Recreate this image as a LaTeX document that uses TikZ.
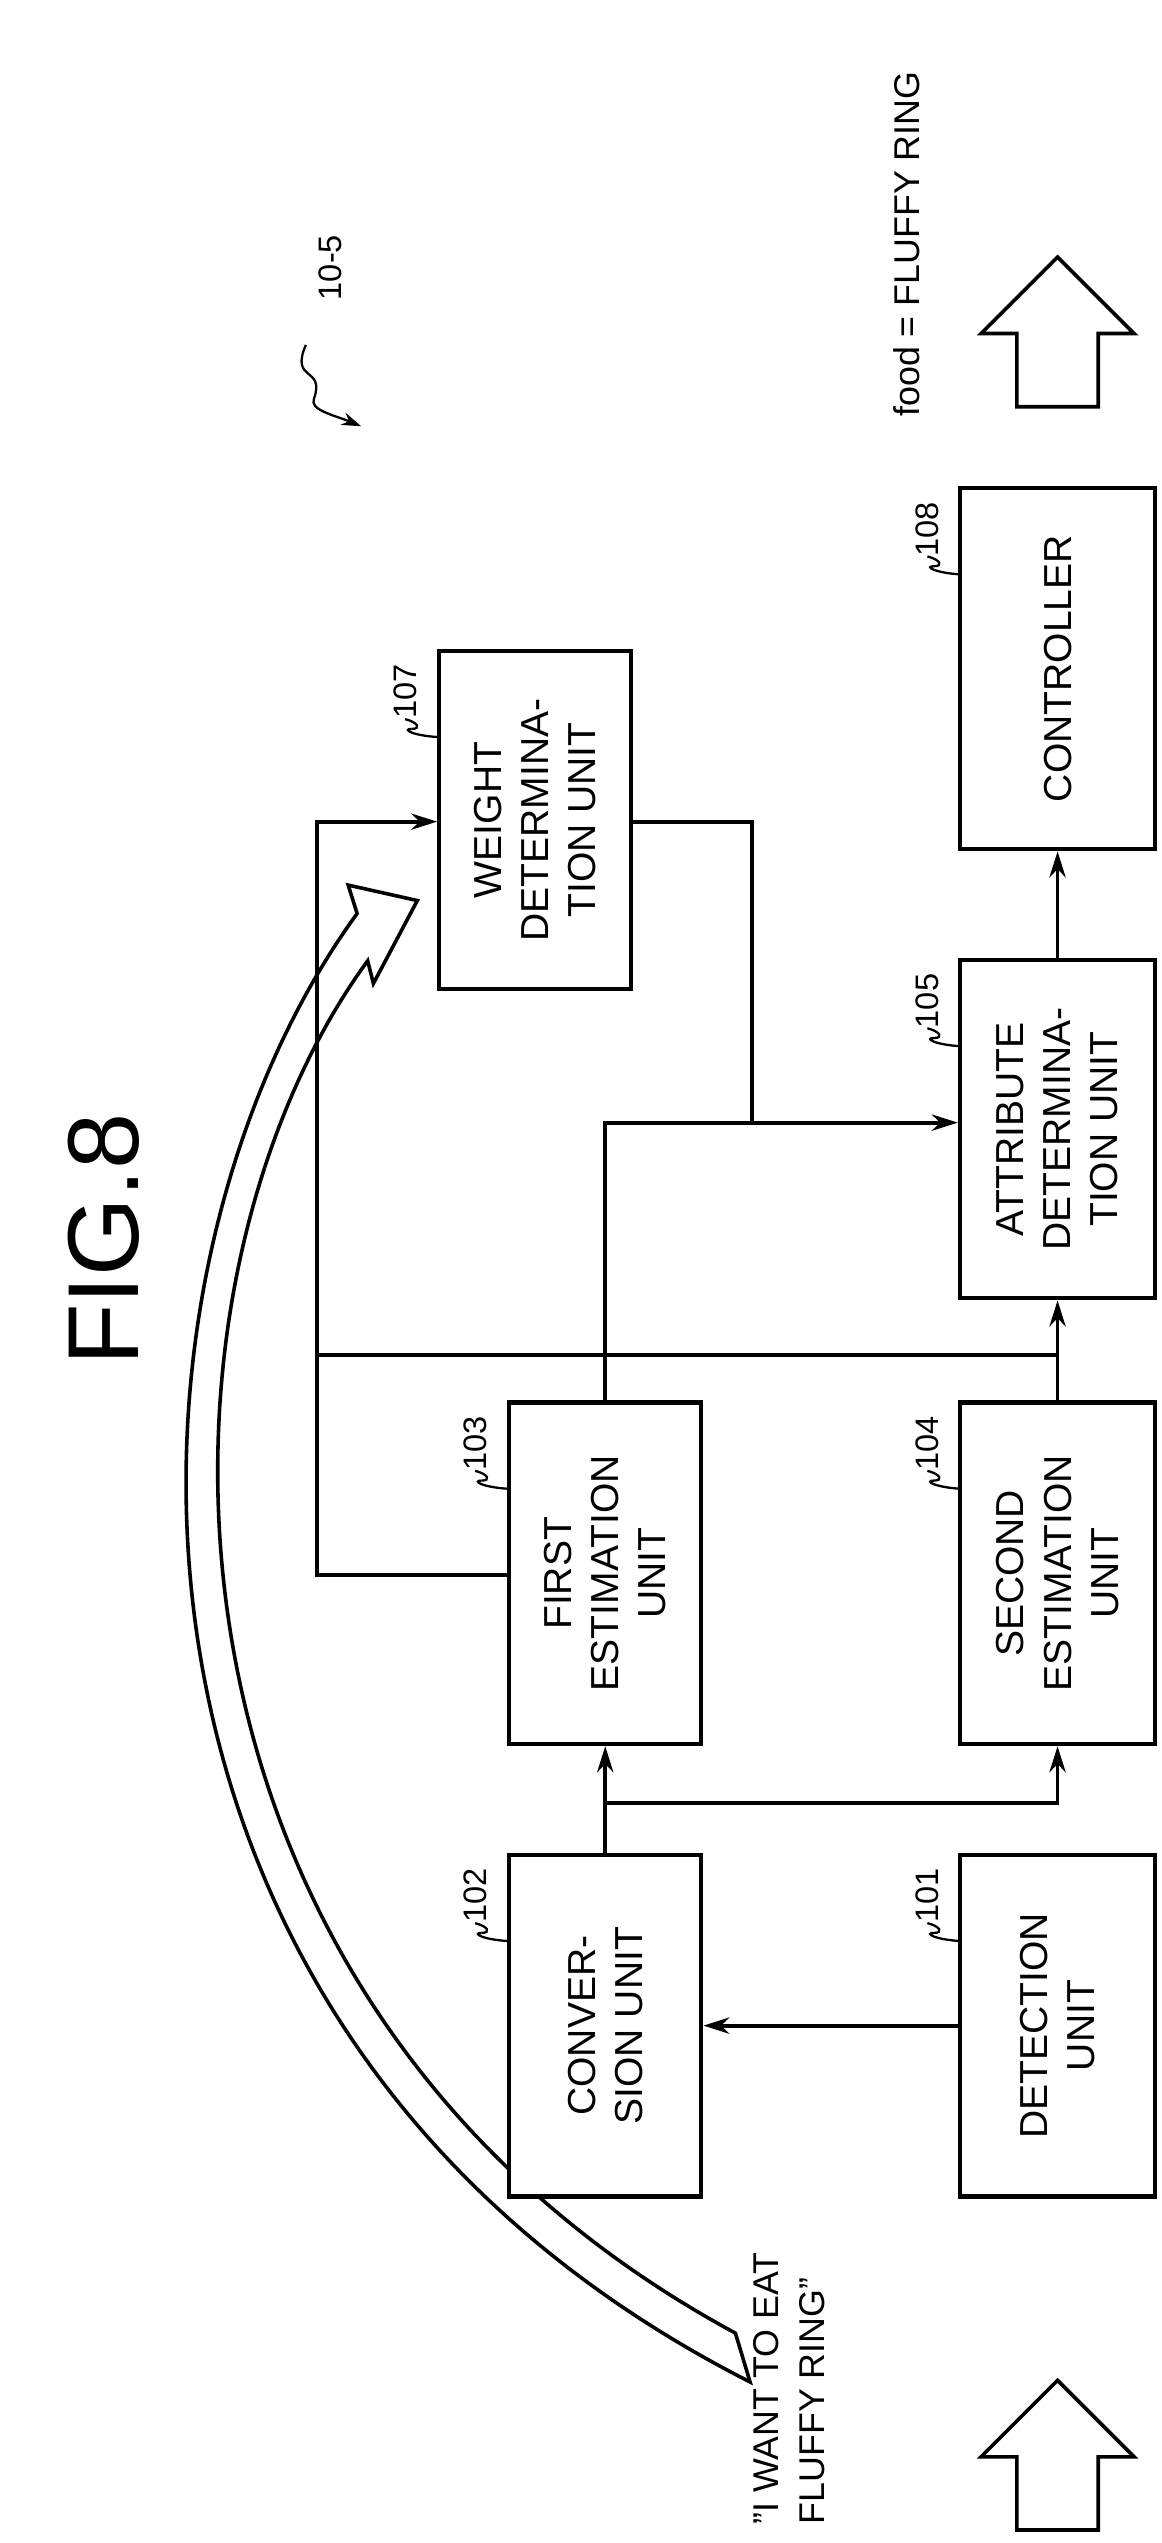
\documentclass[tikz,border=0pt]{standalone}
\usepackage{fontspec}
\setmainfont{Liberation Sans}
\usetikzlibrary{arrows.meta,calc}
\begin{document}
\begin{tikzpicture}[x=1pt,y=-1pt,
 box/.style={draw,line width=2.6pt,minimum width=#1,inner sep=0pt},
 ln/.style={line width=2.3pt},
 ar/.style={ln,-{Stealth[length=16pt,width=10pt]}},
 lab/.style={font=\fontsize{20}{20}\selectfont,rotate=90,anchor=west},
 bt/.style={font=\fontsize{24}{29}\selectfont,align=center}]
\useasboundingbox (0,0) rectangle (714,1563);
% curved hollow arrow (behind)
\draw[line width=2.2pt,fill=white,line join=miter]
 (461,1464) .. controls (40,1250) and (60,780) .. (219.5,561.5)
 -- (214,544) -- (256.5,553.5) -- (229.5,604.5) -- (226,590.5)
 .. controls (80,790) and (75,1230) .. (452,1434) -- cycle;
\newcommand{\bx}[5]{\node[box=#4pt,minimum height=#5pt,fill=white] (#1) at (#2,#3) {};}
\bx{det}{650}{1245}{120}{210}
\bx{conv}{372}{1245}{118}{210}
\bx{fe}{372}{967}{118}{210}
\bx{se}{650}{967}{120}{210}
\bx{att}{650}{694}{120}{208}
\bx{ctl}{650}{411}{120}{222}
\bx{wt}{329}{504}{118}{208}
\node[bt,rotate=90] at (det) {DETECTION\\UNIT};
\node[bt,rotate=90] at (conv) {CONVER-\\SION UNIT};
\node[bt,rotate=90] at (fe) {FIRST\\ESTIMATION\\UNIT};
\node[bt,rotate=90] at (se) {SECOND\\ESTIMATION\\UNIT};
\node[bt,rotate=90] at (att) {ATTRIBUTE\\DETERMINA-\\TION UNIT};
\node[bt,rotate=90] at (ctl) {CONTROLLER};
\node[bt,rotate=90] at (wt) {WEIGHT\\DETERMINA-\\TION UNIT};
% reference labels
\foreach \n/\t/\x/\y in {det/101/576/1140,conv/102/298/1140,fe/103/298/862,se/104/576/862,att/105/576/590,wt/107/255/400,ctl/108/576/300}{
 \node[lab,anchor=east] (l\n) at (\x-6,\y+5) {\t};
 \draw[line width=1.4pt] (\x-2,\y+48) .. controls (\x-8,\y+48) and (\x-2,\y+52) .. (\x+14,\y+53);
 \draw[line width=1.4pt] (\x-2,\y+48) .. controls (\x+4,\y+48) and (\x+2,\y+44) .. (\x-6,\y+42);
}
% connectors
\draw[ar] (det.west) -- (conv.east);
\draw[ar] (conv.north) -- (fe.south);
\coordinate (b1) at (372,1108);
\draw[ar] (b1) -| (se.south);
\draw[ar] (se.north) -- (att.south);
\draw[ar] (att.north) -- (ctl.south);
\coordinate (j1) at (372,690);
\draw[ar] (fe.north) -- (j1) -- (att.west |- j1);
\coordinate (j2) at (462,690);
\draw[ln] (wt.east |- 0,505) -- (462,505) -- (j2);
\coordinate (k1) at (195,968);
\draw[ar] (fe.west |- k1) -- (k1) -- (195,505) -- (wt.west |- 0,505);
\coordinate (k2) at (195,833);
\draw[ln] (k2) -- (650,833);
% FIG
\node[font=\fontsize{62}{62}\selectfont,rotate=90] (fig) at (64,762) {FIG.8};
% 10-5
\node[lab] (ref) at (203,188) {10-5};
\draw[line width=1.4pt,-{Stealth[length=12pt,width=8pt]}] (188,212) .. controls (178,235) and (200,225) .. (193,245) .. controls (190,252) and (205,255) .. (222,262);
% texts
\node[font=\fontsize{22}{28}\selectfont,rotate=90,align=left] (said) at (485,1468) {"I WANT TO EAT\\FLUFFY RING"};
\node[font=\fontsize{22}{22}\selectfont,rotate=90] (food) at (557,150) {food = FLUFFY RING};
% block arrows
\draw[line width=2.2pt,fill=white] (625,1555) -- (625,1510) -- (603,1510) -- (650,1463) -- (697,1510) -- (675,1510) -- (675,1555) -- cycle;
\draw[line width=2.2pt,fill=white] (625,250) -- (625,205) -- (603,205) -- (650,158) -- (697,205) -- (675,205) -- (675,250) -- cycle;
\end{tikzpicture}
\end{document}
